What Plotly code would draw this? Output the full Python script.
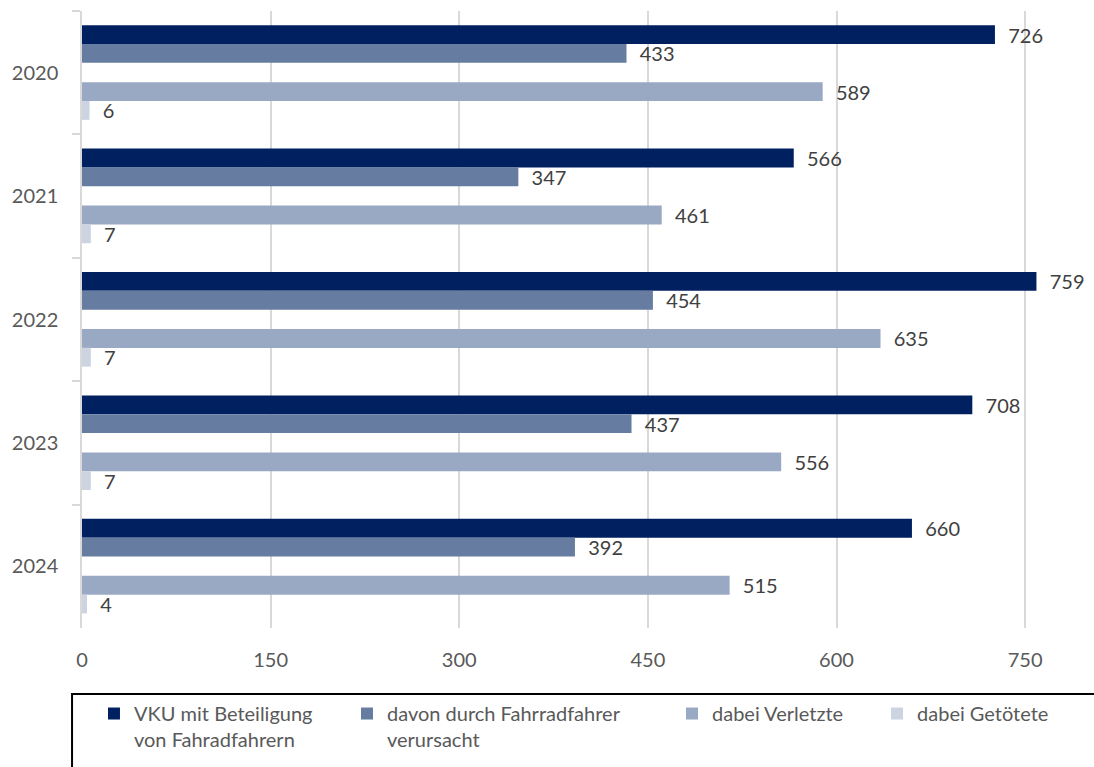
import plotly.graph_objects as go

years = ["2020", "2021", "2022", "2023", "2024"]
vku = [726, 566, 759, 708, 660]
davon = [433, 347, 454, 437, 392]
verletzte = [589, 461, 635, 556, 515]
getoetete = [6, 7, 7, 7, 4]

series_names = [
    "VKU mit Beteiligung<br>von Fahradfahrern",
    "davon durch Fahrradfahrer<br>verursacht",
    "dabei Verletzte",
    "dabei Getötete",
]
colors = ["#002060", "#667DA1", "#99A9C4", "#CCD4E2"]
offsets = [-0.385, -0.233, 0.077, 0.229]
bar_w = 0.153
legend_ids = ["legend", "legend2", "legend3", "legend4"]
legend_x = [0.0119, 0.2634, 0.5865, 0.7903]

FONT = "Lato"
fig = go.Figure()
for vals, name, col, off, lg in zip([vku, davon, verletzte, getoetete], series_names, colors, offsets, legend_ids):
    fig.add_trace(go.Bar(
        y=years, x=vals, orientation="h", name=name,
        marker=dict(color=col, line=dict(width=0)),
        offset=off, width=bar_w,
        text=vals, texttemplate="  %{x}", textposition="outside",
        constraintext="none", cliponaxis=False,
        textfont=dict(family=FONT, size=20, color="#404040"),
        legend=lg,
    ))

layout_legends = {}
for lg, lx in zip(legend_ids, legend_x):
    layout_legends[lg] = dict(
        x=lx, xanchor="left", y=-0.107, yanchor="top",
        font=dict(family=FONT, size=20, color="#595959"),
        bgcolor="rgba(0,0,0,0)", borderwidth=0, valign="top",
    )

fig.update_layout(
    width=1094, height=767,
    margin=dict(l=82, r=6, t=11, b=139, autoexpand=False),
    paper_bgcolor="white", plot_bgcolor="white",
    barmode="overlay", showlegend=True,
    font=dict(family=FONT, size=20, color="#595959"),
    xaxis=dict(range=[0, 800], tickvals=[0, 150, 300, 450, 600, 750],
               showgrid=True, gridcolor="#D9D9D9", gridwidth=1.5,
               zeroline=False, showline=False, ticks="",
               ticklabelstandoff=18, automargin=False,
               tickfont=dict(family=FONT, size=20, color="#595959")),
    yaxis=dict(type="category", categoryorder="array", categoryarray=years,
               range=[4.5, -0.5], showgrid=False, automargin=False,
               showline=True, linecolor="#D9D9D9", linewidth=1.5,
               ticks="outside", ticklen=8, tickcolor="#D9D9D9", tickwidth=1.5,
               tickson="boundaries", ticklabelstandoff=18,
               tickfont=dict(family=FONT, size=20, color="#595959")),
    shapes=[dict(type="rect", xref="paper", yref="paper",
                 x0=-0.0099, x1=1.05, y0=-0.4, y1=-0.107,
                 line=dict(color="#000000", width=2), fillcolor="rgba(0,0,0,0)",
                 layer="above")],
    **layout_legends,
)

# remove the default page margin so the 1094x767 figure fills the window exactly
fig.write_html(
    "out.html",
    config={"displayModeBar": False},
    post_script="document.body.style.margin='0';document.body.style.overflow='hidden';",
)
